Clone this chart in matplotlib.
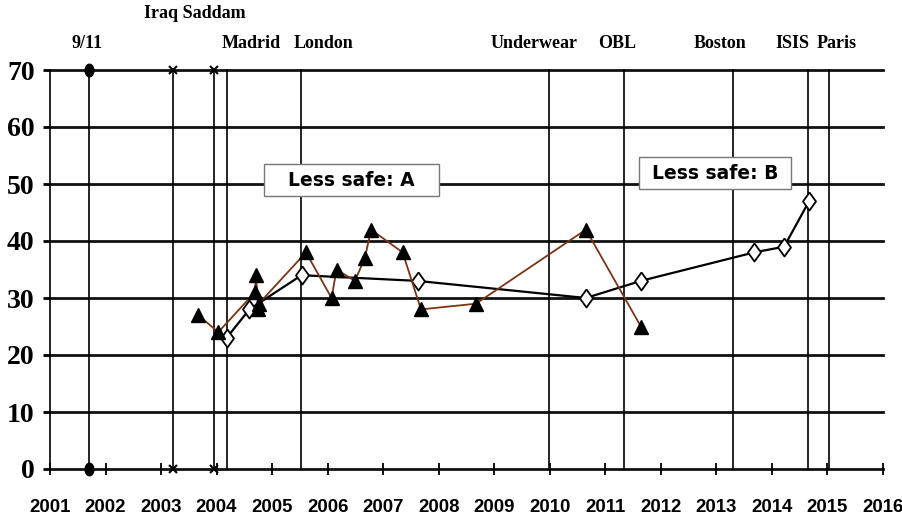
import numpy as np
import matplotlib.pyplot as plt
from matplotlib.patches import Rectangle

# survey A (brown, filled triangles)
a_dates = [2003.67, 2004.03, 2004.69, 2004.71, 2004.75, 2004.76, 2005.61, 2006.07,
           2006.16, 2006.49, 2006.67, 2006.78, 2007.35, 2007.68, 2008.67, 2010.65, 2011.64]
a_values = [27, 24, 31, 34, 28, 29, 38, 30, 35, 33, 37, 42, 38, 28, 29, 42, 25]

# survey B (black, open diamonds)
b_dates = [2004.18, 2004.59, 2005.53, 2007.62, 2010.65, 2011.64, 2013.68, 2014.22, 2014.67]
b_values = [23, 28, 34, 33, 30, 33, 38, 39, 47]

# events
event_dates = [2001.70, 2003.22, 2003.95, 2004.19, 2005.52, 2009.98, 2011.33, 2013.29, 2014.65, 2015.02]
event_markers = ['o', 'x', 'x', None, None, None, None, None, None, None]

header_labels = ['9/11', 'Iraq Saddam', 'Madrid', 'London', 'Underwear', 'OBL', 'Boston', 'ISIS', 'Paris']
header_x = [2001.67, 2003.61, 2004.62, 2005.92, 2009.72, 2011.21, 2013.07, 2014.36, 2015.17]
header_row = [1, 0, 1, 1, 1, 1, 1, 1, 1]

years = list(range(2001, 2017))
y_ticks = [0, 10, 20, 30, 40, 50, 60, 70]

brown = '#7B3414'
serif = ['Liberation Serif', 'DejaVu Serif']

fig = plt.figure(figsize=(9.03, 5.23), dpi=100)
ax = fig.add_axes([50 / 903, 1 - 469 / 523, 833 / 903, 399 / 523])
ax.set_xlim(2001, 2016)
ax.set_ylim(0, 70)

# horizontal grid
for y in y_ticks:
    ax.axhline(y, color='#111111', lw=2, zorder=1, clip_on=False)

# event lines
ellipse = [(0.7 * np.cos(t), np.sin(t)) for t in np.linspace(0, 2 * np.pi, 30)]
for x, m in zip(event_dates, event_markers):
    ax.plot([x, x], [0, 70], color='black', lw=1.2, zorder=2, clip_on=False)
    if m == 'o':
        ax.plot([x, x], [0, 70], ls='none', marker=ellipse, ms=9, color='black',
                zorder=5, clip_on=False)
    elif m == 'x':
        ax.plot([x, x], [0, 70], ls='none', marker='x', ms=6, mew=1.5, color='black',
                zorder=5, clip_on=False)

# series
diamond = [(0, 1), (0.72, 0), (0, -1), (-0.72, 0), (0, 1)]
ax.plot(b_dates, b_values, color='black', lw=1.6, marker=diamond, ms=13,
        mfc='white', mec='black', mew=1.3, zorder=3)
ax.plot(a_dates, a_values, color=brown, lw=1.3, marker='^', ms=9.5,
        mfc='black', mec='black', zorder=4)

# header labels
for lab, x, r in zip(header_labels, header_x, header_row):
    y = 80 if r == 0 else 74.6
    ax.text(x, y, lab, ha='center', va='center', fontsize=13, fontweight='bold',
            family=serif, clip_on=False)

# boxes
ax.add_patch(Rectangle((2004.86, 47.9), 3.15, 5.6, facecolor='white',
                       edgecolor='#777777', lw=1, zorder=6))
ax.text(2006.43, 50.7, 'Less safe: A', ha='center', va='center', fontsize=13.5,
        fontweight='heavy', family=['DejaVu Sans'], zorder=7)
ax.add_patch(Rectangle((2011.61, 49.1), 2.74, 5.6, facecolor='white',
                       edgecolor='#777777', lw=1, zorder=6))
ax.text(2012.98, 51.9, 'Less safe: B', ha='center', va='center', fontsize=13.5,
        fontweight='heavy', family=['DejaVu Sans'], zorder=7)

# axes styling
for s in ['top', 'right', 'bottom']:
    ax.spines[s].set_visible(False)
ax.spines['left'].set_linewidth(1.2)
ax.set_xticks(years)
ax.set_xticklabels([str(y) for y in years], fontsize=13.4, fontweight='bold',
                   family=['Liberation Sans', 'DejaVu Sans'])
ax.set_yticks(y_ticks)
ax.set_yticklabels([str(y) for y in y_ticks], fontsize=20, fontweight='bold', family=serif)
ax.tick_params(axis='x', direction='inout', length=9, width=1.3, pad=17)
ax.tick_params(axis='y', direction='out', length=5, width=2, pad=6)

fig.savefig('out.png', dpi=100)
